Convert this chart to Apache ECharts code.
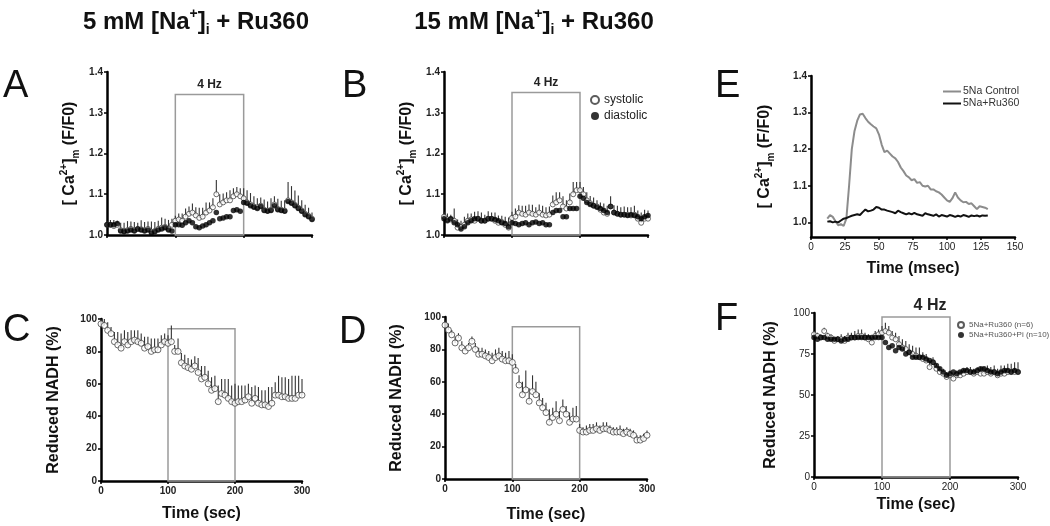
<!DOCTYPE html>
<html><head><meta charset="utf-8">
<script src="https://cdn.jsdelivr.net/npm/echarts@6/dist/echarts.min.js"></script>
<style>html,body{margin:0;padding:0;background:#fff}#c{width:1050px;height:526px}</style>
</head><body><div id="c"></div>
<script>
// ---------- DATA ----------
const T = [0,5,10,15,20,25,30,35,40,45,50,55,60,65,70,75,80,85,90,95,100,105,110,115,120,125,130,135,140,145,150,155,160,165,170,175,180,185,190,195,200,205,210,215,220,225,230,235,240,245,250,255,260,265,270,275,280,285,290,295,300];

// Panel A (5 mM Na + Ru360), mito Ca (F/F0)
const A_sys = [1.025,1.025,1.022,1.025,1.012,1.010,1.012,1.015,1.012,1.015, 1.014,1.012,1.015,1.008,1.010,1.015,1.018,1.020,1.015,1.025, 1.035,1.038,1.035,1.045,1.052,1.055,1.048,1.042,1.045,1.055, 1.060,1.068,1.100,1.075,1.080,1.085,1.085,1.095,1.100,1.095, 1.090,1.080,1.075,1.070,1.068,1.072,1.062,1.060,1.062,1.075, 1.064,1.062,1.060,1.085,1.080,1.074,1.067,1.060,1.052,1.047, 1.040];
const A_sysErr = [0.010,0.012,0.015,0.010,0.018,0.020,0.022,0.018,0.020,0.015, 0.022,0.020,0.018,0.025,0.022,0.020,0.025,0.020,0.022,0.015, 0.012,0.015,0.018,0.020,0.018,0.022,0.020,0.025,0.022,0.025, 0.020,0.022,0.035,0.025,0.022,0.020,0.025,0.020,0.018,0.020, 0.025,0.030,0.028,0.025,0.022,0.020,0.025,0.022,0.028,0.020, 0.025,0.022,0.025,0.045,0.040,0.035,0.030,0.025,0.022,0.020, 0.015];
const A_dia = [1.025,1.025,1.025,1.028,1.010,1.008,1.010,1.012,1.010,1.015, 1.012,1.010,1.012,1.005,1.008,1.012,1.015,1.018,1.012,1.010, 1.025,1.025,1.024,1.030,1.035,1.030,1.020,1.018,1.022,1.025, 1.030,1.035,1.055,1.040,1.042,1.045,1.045,1.060,1.062,1.058, 1.080,1.078,1.072,1.068,1.065,1.070,1.060,1.058,1.060,1.072, 1.062,1.060,1.058,1.082,1.078,1.072,1.065,1.058,1.050,1.045, 1.038];

// Panel B (15 mM Na + Ru360)
const B_sys = [1.045,1.038,1.038,1.035,1.018,1.020,1.025,1.035,1.038,1.035, 1.040,1.035,1.035,1.040,1.040,1.035,1.030,1.032,1.025,1.018, 1.042,1.045,1.055,1.052,1.050,1.055,1.052,1.050,1.055,1.050, 1.048,1.050,1.075,1.080,1.085,1.070,1.065,1.080,1.100,1.110, 1.110,1.100,1.085,1.078,1.072,1.070,1.062,1.055,1.052,1.070, 1.055,1.052,1.050,1.050,1.050,1.048,1.050,1.040,1.030,1.040, 1.040];
const B_sysErr = [0.012,0.015,0.012,0.030,0.020,0.015,0.020,0.018,0.015,0.022, 0.018,0.020,0.015,0.018,0.015,0.020,0.018,0.015,0.020,0.025, 0.015,0.020,0.018,0.020,0.022,0.020,0.022,0.018,0.020,0.022, 0.020,0.020,0.022,0.025,0.020,0.025,0.020,0.022,0.030,0.020, 0.020,0.018,0.020,0.018,0.020,0.015,0.018,0.022,0.020,0.025, 0.018,0.020,0.018,0.020,0.018,0.020,0.022,0.020,0.025,0.022, 0.020];
const B_dia = [1.040,1.035,1.040,1.030,1.025,1.015,1.020,1.030,1.035,1.040, 1.040,1.035,1.035,1.040,1.040,1.038,1.035,1.030,1.028,1.020, 1.030,1.028,1.025,1.028,1.030,1.025,1.030,1.032,1.028,1.030, 1.025,1.025,1.055,1.060,1.060,1.045,1.045,1.065,1.065,1.065, 1.095,1.090,1.080,1.075,1.072,1.068,1.065,1.060,1.055,1.070, 1.055,1.052,1.050,1.050,1.048,1.050,1.048,1.045,1.040,1.045, 1.048];

// Panel C (5 mM Na + Ru360), reduced NADH (%)
const C_val = [97,96,93,91,86,84,82,86,84,86, 87,86,85,82,83,80,81,81,84,86, 85,86,80,80,73,71,70,69,71,67, 63,64,60,56,57,49,54,53,51,49, 48,49,49,50,52,48,51,48,47,47, 46,48,53,53,52,52,51,51,51,53, 53];
const C_err = [3,4,5,4,6,8,9,7,8,7, 6,7,6,7,6,8,7,7,6,5, 5,10,4,8,6,7,6,6,6,9, 8,7,8,8,8,10,9,10,12,10, 12,10,10,9,8,10,8,10,9,9, 12,10,8,12,12,12,12,14,14,12, 10];

// Panel D (15 mM Na + Ru360)
const D_val = [95,92,89,84,87,81,79,81,85,80, 77,77,76,75,73,75,76,74,73,73, 72,67,58,52,55,48,54,52,47,44, 41,35,38,40,36,43,40,35,37,37, 30,29,29,30,30,31,30,31,31,30, 29,29,29,28,29,28,27,24,24,25, 27];
const D_err = [3,4,3,4,3,4,3,3,3,4, 4,4,4,4,5,5,5,5,5,6, 5,4,6,8,12,8,10,8,6,6, 6,8,6,8,6,6,5,6,7,8, 4,3,4,4,4,4,3,4,4,3, 3,3,4,3,3,3,3,3,3,3, 3];

// Panel E transients
const E_time = [12,14,16,18,20,22,24,26,28,30,32,34,36,38,40,42,44,46,48,50,52,54,56,58,60,62,64,66,68,70,72,74,76,78,80,82,84,86,88,90,92,94,96,98,100,102,104,106,108,110,112,114,116,118,120,122,124,126,128,130];
const E_control = [1.010,1.020,1.015,1.003,0.992,0.995,0.990,1.010,1.100,1.200, 1.250,1.278,1.295,1.297,1.285,1.275,1.268,1.262,1.257,1.240, 1.212,1.192,1.196,1.188,1.180,1.175,1.165,1.150,1.140,1.128, 1.123,1.115,1.118,1.108,1.110,1.100,1.098,1.100,1.090,1.090, 1.085,1.082,1.076,1.068,1.060,1.056,1.066,1.082,1.068,1.060, 1.055,1.056,1.050,1.052,1.044,1.036,1.044,1.042,1.040,1.036];
const E_ru360 = [1.002,1.003,1.000,1.002,1.000,1.005,1.010,1.012,1.015,1.018, 1.020,1.022,1.020,1.028,1.035,1.030,1.032,1.035,1.042,1.040, 1.035,1.035,1.032,1.030,1.028,1.025,1.032,1.028,1.025,1.022, 1.025,1.022,1.026,1.022,1.020,1.018,1.025,1.022,1.020,1.018, 1.022,1.016,1.020,1.018,1.016,1.020,1.018,1.015,1.018,1.016, 1.020,1.018,1.015,1.019,1.017,1.019,1.016,1.019,1.018,1.019];

// Panel F
const F_open = [87,86,85,89,86,85,83,84,84,83, 85,85,85,86,86,85,84,82,86,87, 88,89,88,85,84,81,79,78,76,75, 74,73,72,71,67,70,66,64,63,61, 62,60,62,62,63,64,64,63,64,63, 63,64,63,64,62,63,63,64,64,64, 64];
const F_openErr = [2,2,2,2,2,2,2,2,3,3, 3,3,4,4,4,3,3,3,3,3, 4,5,4,4,4,5,5,5,5,5, 5,6,4,4,4,3,3,3,3,3, 3,3,3,3,3,3,3,3,3,4, 4,4,4,4,4,5,5,5,5,6, 6];
const F_fill = [85,84,85,85,84,84,84,84,83,84, 84,85,85,85,85,85,85,85,85,85, 85,82,79,80,77,79,78,75,76,73, 73,73,73,72,71,70,68,66,64,62, 63,64,63,64,65,65,64,64,65,66, 66,65,64,64,63,64,65,65,64,65, 64];

const CA_TICKS = [1.0,1.1,1.2,1.3,1.4];

// ---------- CHART ----------
const FONT = 'Liberation Sans, Arial, Helvetica, sans-serif';
const chart = echarts.init(document.getElementById('c'), null, {renderer:'canvas'});

function rows(x, y, e){ return x.map((t,i)=> e ? [t, y[i], e[i]] : [t, y[i]]); }

function errSeries(g, x, y, e){
  return {type:'custom', xAxisIndex:g, yAxisIndex:g, z:1, silent:true,
    data: rows(x,y,e),
    renderItem: function(params, api){
      const p0 = api.coord([api.value(0), api.value(1)]);
      const p1 = api.coord([api.value(0), api.value(1)+api.value(2)]);
      return {type:'line', shape:{x1:p0[0],y1:p0[1],x2:p1[0],y2:p1[1]}, style:{stroke:'#333', lineWidth:1.1}};
    }};
}
function openSeries(g, name, x, y, size){
  return {type:'scatter', name:name, xAxisIndex:g, yAxisIndex:g, z:2, symbol:'circle', symbolSize:size||5,
    itemStyle:{color:'#fff', borderColor:'#333', borderWidth:0.9}, data: rows(x,y)};
}
function fillSeries(g, name, x, y, size){
  return {type:'scatter', name:name, xAxisIndex:g, yAxisIndex:g, z:3, symbol:'circle', symbolSize:size||5.5,
    itemStyle:{color:'#000'}, data: rows(x,y)};
}
function boxMark(y0, y1, label, fs, off){
  return {silent:true, itemStyle:{color:'rgba(0,0,0,0)', borderColor:'#9a9a9a', borderWidth:1.5},
    label: label ? {show:true, position:'top', distance:3, formatter:label, fontSize:fs, fontWeight:'bold', color:'#222', fontFamily:FONT, offset:off||[0,0]} : {show:false},
    data:[[{xAxis:100, yAxis:y0},{xAxis:200, yAxis:y1}]]};
}

const caRich = {
  sup:{fontSize:10, fontWeight:'bold', color:'#111', fontFamily:FONT, verticalAlign:'top', lineHeight:10},
  sub:{fontSize:10, fontWeight:'bold', color:'#111', fontFamily:FONT, verticalAlign:'bottom', lineHeight:10}
};
const CA_NAME = '[ Ca{sup|2+}]{sub|m} (F/F0)';

const axisLineS = {show:true, onZero:false, lineStyle:{color:'#000', width:2.5}};
const tickS = {show:true, length:3, lineStyle:{color:'#000', width:1.5}};

function xAx(g, min, max, interval, showLabel, name, gap, bold){
  return {type:'value', gridIndex:g, min:min, max:max, interval:interval,
    axisLine:axisLineS, axisTick:tickS, splitLine:{show:false},
    axisLabel:{show:showLabel, fontSize:10, fontWeight: bold===false?'normal':'bold', color:'#222', margin:5, fontFamily:FONT},
    name:name||'', nameLocation:'middle', nameGap:gap||20,
    nameTextStyle:{fontSize:16, fontWeight:'bold', color:'#111', fontFamily:FONT}};
}
function yAx(g, min, max, interval, name, gap, isCa, bold, custom){
  const a = {type:'value', gridIndex:g, min:min, max:max, interval:interval,
    axisLine:axisLineS, axisTick:tickS, splitLine:{show:false},
    axisLabel:{show:true, fontSize:10, fontWeight: bold===false?'normal':'bold', color:'#222', margin:4, fontFamily:FONT},
    name:name, nameLocation:'middle', nameGap:gap, nameRotate:90,
    nameTextStyle:{fontSize:16, fontWeight:'bold', color:'#111', fontFamily:FONT, lineHeight:22}};
  if (isCa){
    a.axisLabel.formatter = v => v.toFixed(1);
    a.nameTextStyle.rich = caRich;
  }
  if (custom){
    a.axisLabel.customValues = custom;
    a.axisTick = Object.assign({}, tickS, {customValues:custom});
  }
  return a;
}

const titleRich = {
  sup:{fontSize:14, fontWeight:'bold', fill:'#111', fontFamily:FONT, verticalAlign:'top', lineHeight:14},
  sub:{fontSize:14, fontWeight:'bold', fill:'#111', fontFamily:FONT, verticalAlign:'bottom', lineHeight:14}
};
function letter(ch, x, y){
  return {type:'text', x:x, y:y, silent:true, style:{text:ch, fontSize:38, fontFamily:FONT, fontWeight:'normal', fill:'#111', align:'left', verticalAlign:'middle'}};
}
function title(txt, cx, cy){
  return {type:'text', x:cx, y:cy, silent:true, style:{text:txt, fontSize:24, fontWeight:'bold', fontFamily:FONT, fill:'#111', align:'center', verticalAlign:'middle', lineHeight:30, rich:titleRich}};
}

const option = {
  animation:false,
  backgroundColor:'#fff',
  grid:[
    {left:107, top:72, width:205, height:163},
    {left:444, top:72, width:204, height:163},
    {left:101, top:319, width:201, height:162},
    {left:445, top:317, width:202, height:162},
    {left:811, top:76, width:204, height:161},
    {left:814, top:313, width:204, height:164}
  ],
  xAxis:[
    xAx(0,0,300,100,false),
    xAx(1,0,300,100,false),
    xAx(2,0,300,100,true,'Time (sec)',25),
    xAx(3,0,300,100,true,'Time (sec)',28),
    xAx(4,0,150,25,true,'Time (msec)',24,false),
    xAx(5,0,300,100,true,'Time (sec)',20,false)
  ],
  yAxis:[
    yAx(0,1.0,1.4,0.1,CA_NAME,26,true),
    yAx(1,1.0,1.4,0.1,CA_NAME,26,true),
    yAx(2,0,100,20,'Reduced NADH (%)',36),
    yAx(3,0,100,20,'Reduced NADH (%)',37),
    yAx(4,0.96,1.4,null,CA_NAME,35,true,true,CA_TICKS),
    yAx(5,0,100,25,'Reduced NADH (%)',32,false,false)
  ],
  legend:[
    {data:['systolic','diastolic'], orient:'vertical', left:585, top:89, itemWidth:8, itemHeight:8, itemGap:4,
     textStyle:{fontSize:12, color:'#222', fontFamily:FONT}},
    {data:['5Na Control','5Na+Ru360'], orient:'vertical', left:938, top:81, icon:'rect', itemWidth:18, itemHeight:2, itemGap:1,
     textStyle:{fontSize:10.5, color:'#333', fontFamily:FONT, padding:[0,0,0,-3]}},
    {data:['5Na+Ru360 (n=6)','5Na+Ru360+Pi (n=10)'], orient:'vertical', left:952, top:316, itemWidth:6, itemHeight:6, itemGap:2,
     textStyle:{fontSize:8, color:'#555', fontFamily:FONT}}
  ],
  graphic:[
    title('5 mM [Na{sup|+}]{sub|i} + Ru360', 196, 22),
    title('15 mM [Na{sup|+}]{sub|i} + Ru360', 534, 22),
    letter('A', 3, 87), letter('B', 342, 87), letter('C', 3, 331),
    letter('D', 339, 333), letter('E', 715, 87), letter('F', 715, 320)
  ],
  series:[
    // A
    errSeries(0, T, A_sys, A_sysErr),
    Object.assign(openSeries(0,'A systolic',T,A_sys), {markArea: boxMark(1.0,1.345,'4 Hz',12)}),
    fillSeries(0,'A diastolic',T,A_dia),
    // B
    errSeries(1, T, B_sys, B_sysErr),
    Object.assign(openSeries(1,'systolic',T,B_sys), {markArea: boxMark(1.0,1.35,'4 Hz',12)}),
    fillSeries(1,'diastolic',T,B_dia),
    // C
    errSeries(2, T, C_val, C_err),
    Object.assign(openSeries(2,'C NADH',T,C_val,6), {markArea: boxMark(0,94,null)}),
    // D
    errSeries(3, T, D_val, D_err),
    Object.assign(openSeries(3,'D NADH',T,D_val,6), {markArea: boxMark(0,94,null)}),
    // E
    {type:'line', name:'5Na Control', xAxisIndex:4, yAxisIndex:4, symbol:'none', showSymbol:false,
     lineStyle:{color:'#8c8c8c', width:2}, itemStyle:{color:'#8c8c8c'}, data: rows(E_time, E_control)},
    {type:'line', name:'5Na+Ru360', xAxisIndex:4, yAxisIndex:4, symbol:'none', showSymbol:false,
     lineStyle:{color:'#111', width:2}, itemStyle:{color:'#111'}, data: rows(E_time, E_ru360)},
    // F
    errSeries(5, T, F_open, F_openErr),
    Object.assign(openSeries(5,'5Na+Ru360 (n=6)',T,F_open), {markArea: boxMark(0,97.5,'4 Hz',16,[14,0])}),
    fillSeries(5,'5Na+Ru360+Pi (n=10)',T,F_fill)
  ]
};
chart.setOption(option);
</script>
</body></html>
